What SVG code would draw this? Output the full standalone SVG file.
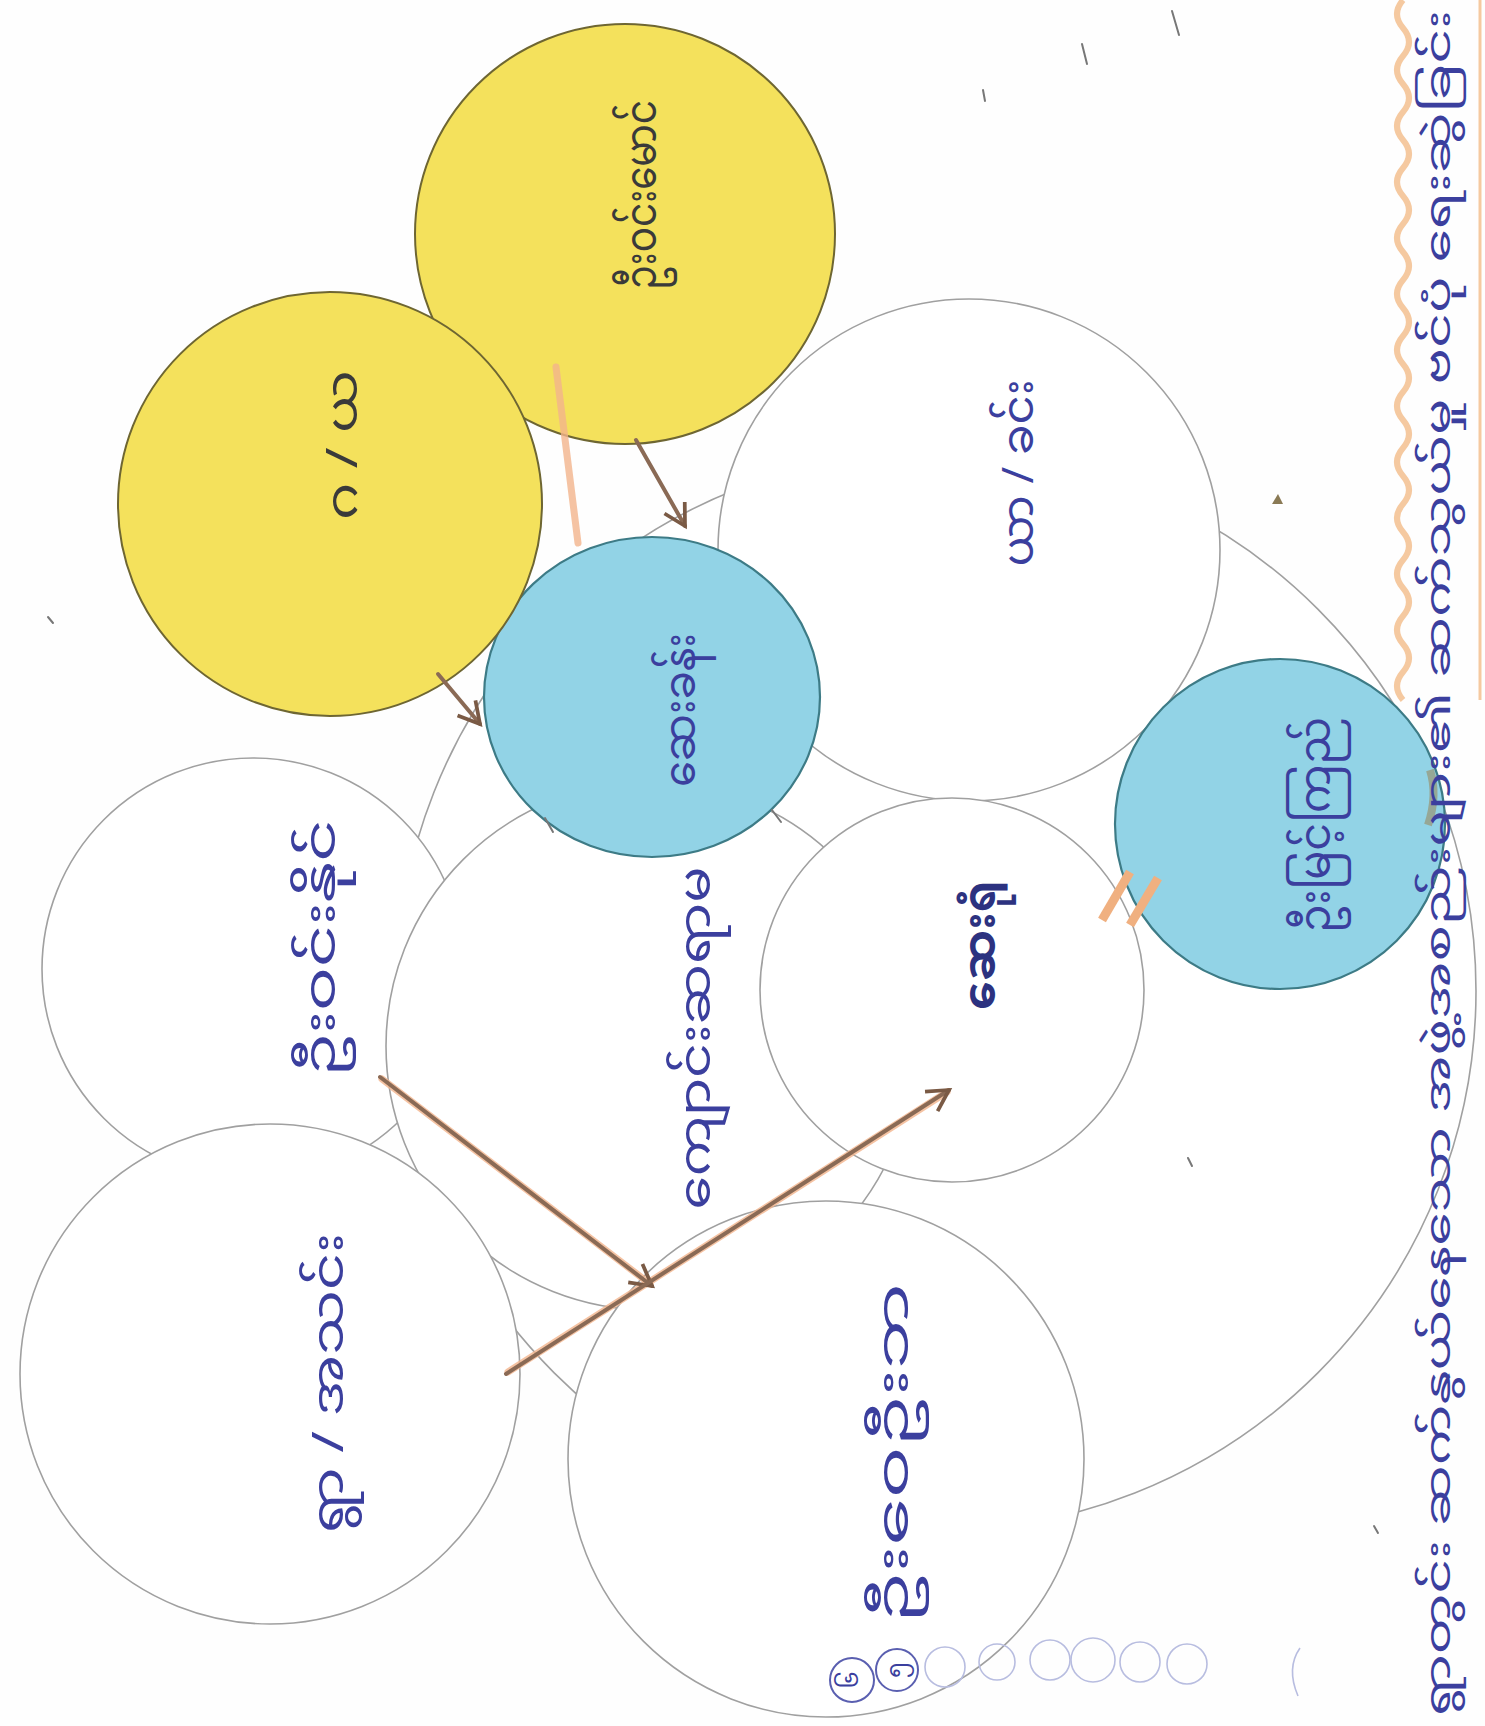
<svg xmlns="http://www.w3.org/2000/svg" width="1485" height="1726" viewBox="0 0 1485 1726">
<defs>
<style>
.paper{fill:#ffffff;stroke:#a0a0a0;stroke-width:1.6}
.yel{fill:#f4e15c;stroke:#6e6632;stroke-width:2}
.blu{fill:#92d3e6;stroke:#3d7b86;stroke-width:2.2}
.lbl{font-family:"Noto Sans Myanmar","Padauk","Myanmar Text","Noto Sans","DejaVu Sans",sans-serif;font-size:44px;fill:#3b3f9e;text-anchor:middle;dominant-baseline:central}
.dark{fill:#3a3a3a}
.bold{font-weight:bold;fill:#2c3280}
.ttl{font-family:"Noto Sans Myanmar","Padauk","Myanmar Text","Noto Sans","DejaVu Sans",sans-serif;font-size:34px;fill:#3b3f9e;dominant-baseline:central}
.arr{fill:none;stroke:#8a6a55;stroke-width:4;stroke-linecap:round}
.arrO{fill:none;stroke:#f2b48c;stroke-width:7;stroke-linecap:round;opacity:.8}
.num{fill:none;stroke:#5a5fb0;stroke-width:2}
.faint{fill:none;stroke:#b8bde0;stroke-width:1.6}
.speck{stroke:#777;stroke-width:2;stroke-linecap:round}
</style>
<marker id="ah" viewBox="0 0 12 12" refX="10" refY="6" markerWidth="7" markerHeight="7" orient="auto" markerUnits="strokeWidth">
<path d="M1,1 L10,6 L1,11" fill="none" stroke="#7a5a45" stroke-width="1.6"/>
</marker>
</defs>
<rect width="1485" height="1726" fill="#fefefe"/>

<g id="big-circle"><circle class="paper" cx="936" cy="991" r="540"/></g>
<g id="n-left-mid"><circle class="paper" cx="253" cy="969" r="211"/></g>
<g id="n-center"><circle class="paper" cx="650" cy="1046" r="264"/></g>
<g id="n-bottom-left"><circle class="paper" cx="270" cy="1374" r="250"/></g>
<g id="n-bottom"><circle class="paper" cx="826" cy="1459" r="258"/></g>
<g id="n-upper-right"><circle class="paper" cx="969" cy="550" r="251"/></g>
<g id="n-mid-right"><circle class="paper" cx="952" cy="990" r="192"/></g>
<g id="n-blue-center"><ellipse class="blu" cx="652" cy="697" rx="168" ry="160"/>
<line class="speck" x1="545" y1="818" x2="553" y2="832"/><line class="speck" x1="772" y1="810" x2="781" y2="822"/></g>
<g id="n-blue-right"><circle class="blu" cx="1280" cy="824" r="165"/><path d="M1430,770 q8,25 -2,55" stroke="#9a8a60" stroke-width="8" fill="none" opacity=".6"/></g>
<g id="n-yellow-top"><circle class="yel" cx="625" cy="234" r="210"/></g>
<g id="n-yellow-left"><circle class="yel" cx="330" cy="504" r="212"/></g>

<g id="connectors">
<line class="arrO" x1="556" y1="367" x2="578" y2="543"/>
<line class="arrO" x1="382" y1="1079" x2="650" y2="1284"/>
<line class="arrO" x1="508" y1="1372" x2="947" y2="1092"/>
<line class="arr" x1="636" y1="440" x2="685" y2="526" marker-end="url(#ah)"/>
<line class="arr" x1="438" y1="674" x2="480" y2="724" marker-end="url(#ah)"/>
<line class="arr" x1="380" y1="1077" x2="652" y2="1286" marker-end="url(#ah)"/>
<line class="arr" x1="506" y1="1374" x2="949" y2="1090" marker-end="url(#ah)"/>
<line stroke="#f0b080" stroke-width="9" x1="1102" y1="920" x2="1130" y2="872"/>
<line stroke="#f0b080" stroke-width="9" x1="1130" y1="925" x2="1158" y2="878"/>
</g>

<g id="title-deco">
<path d="M1403,0 q-12,14 0,28 q12,14 0,28 q-12,14 0,28 q12,14 0,28 q-12,14 0,28 q12,14 0,28 q-12,14 0,28 q12,14 0,28 q-12,14 0,28 q12,14 0,28 q-12,14 0,28 q12,14 0,28 q-12,14 0,28 q12,14 0,28 q-12,14 0,28 q12,14 0,28 q-12,14 0,28 q12,14 0,28 q-12,14 0,28 q12,14 0,28 q-12,14 0,28 q12,14 0,28 q-12,14 0,28 q12,14 0,28 q-12,14 0,28" fill="none" stroke="#f5c9a0" stroke-width="6"/>
<line x1="1480" y1="0" x2="1480" y2="700" stroke="#f5c9a0" stroke-width="3"/>
</g>

<g id="labels">
<text class="lbl dark" transform="translate(646,195) rotate(-90)" textLength="190" lengthAdjust="spacingAndGlyphs">ဦးဝင်းမောင်</text>
<text class="lbl dark" transform="translate(347,445) rotate(-90)" textLength="150" lengthAdjust="spacingAndGlyphs">ဂ / ယ</text>
<text class="lbl" transform="translate(685,710) rotate(-90)" textLength="154" lengthAdjust="spacingAndGlyphs">ဆေးခန်း</text>
<text class="lbl" transform="translate(1023,473) rotate(-90)" textLength="187" lengthAdjust="spacingAndGlyphs">ယာ / ခင်း</text>
<text class="lbl" transform="translate(1320,825) rotate(-90)" textLength="216" lengthAdjust="spacingAndGlyphs">ဦးမြင့်ကြည်</text>
<text class="lbl" transform="translate(325,948) rotate(-90)" textLength="257" lengthAdjust="spacingAndGlyphs">ဦးဝင်းနိုင်</text>
<text class="lbl" transform="translate(700,1038) rotate(-90)" textLength="343" lengthAdjust="spacingAndGlyphs">ကျောင်းဆရာမ</text>
<text class="lbl bold" transform="translate(985,945) rotate(-90)" textLength="130" lengthAdjust="spacingAndGlyphs">ဆေးရုံ</text>
<text class="lbl" transform="translate(333,1383) rotate(-90)" textLength="300" lengthAdjust="spacingAndGlyphs">ရွာ / အသင်း</text>
<text class="lbl" transform="translate(898,1453) rotate(-90)" textLength="340" lengthAdjust="spacingAndGlyphs">ဦးဝေဦးဘ</text>
<text class="ttl" transform="translate(1442,1716) rotate(-90)" textLength="1706" lengthAdjust="spacingAndGlyphs">ရွာတွင်း ဆက်နွယ်နေသော အဖွဲ့အစည်းများ၏ ဆက်သွယ်မှု ဗင်ပုံ ရေးဆွဲခြင်း</text>
</g>

<g id="numbers">
<circle class="num" cx="852" cy="1680" r="22"/><text class="lbl" style="font-size:24px" transform="translate(852,1680) rotate(-90)">၆</text>
<circle class="num" cx="897" cy="1670" r="21"/><text class="lbl" style="font-size:24px" transform="translate(897,1670) rotate(-90)">၅</text>
<circle class="faint" cx="945" cy="1667" r="20"/>
<circle class="faint" cx="997" cy="1662" r="18"/>
<circle class="faint" cx="1050" cy="1660" r="20"/>
<circle class="faint" cx="1093" cy="1660" r="22"/>
<circle class="faint" cx="1140" cy="1662" r="20"/>
<circle class="faint" cx="1187" cy="1664" r="20"/>
<path class="faint" d="M1300,1648 q-14,20 -2,48"/>
</g>

<g id="specks">
<line class="speck" x1="1172" y1="11" x2="1179" y2="35"/>
<line class="speck" x1="1082" y1="44" x2="1087" y2="64"/>
<line class="speck" x1="983" y1="90" x2="985" y2="101"/>
<path d="M1272,504 l6,-10 l5,10z" fill="#8a7a55"/>
<line class="speck" x1="1188" y1="1158" x2="1192" y2="1166"/>
<line class="speck" x1="1374" y1="1526" x2="1378" y2="1533"/>
<line class="speck" x1="48" y1="617" x2="53" y2="623"/>
</g>
</svg>
